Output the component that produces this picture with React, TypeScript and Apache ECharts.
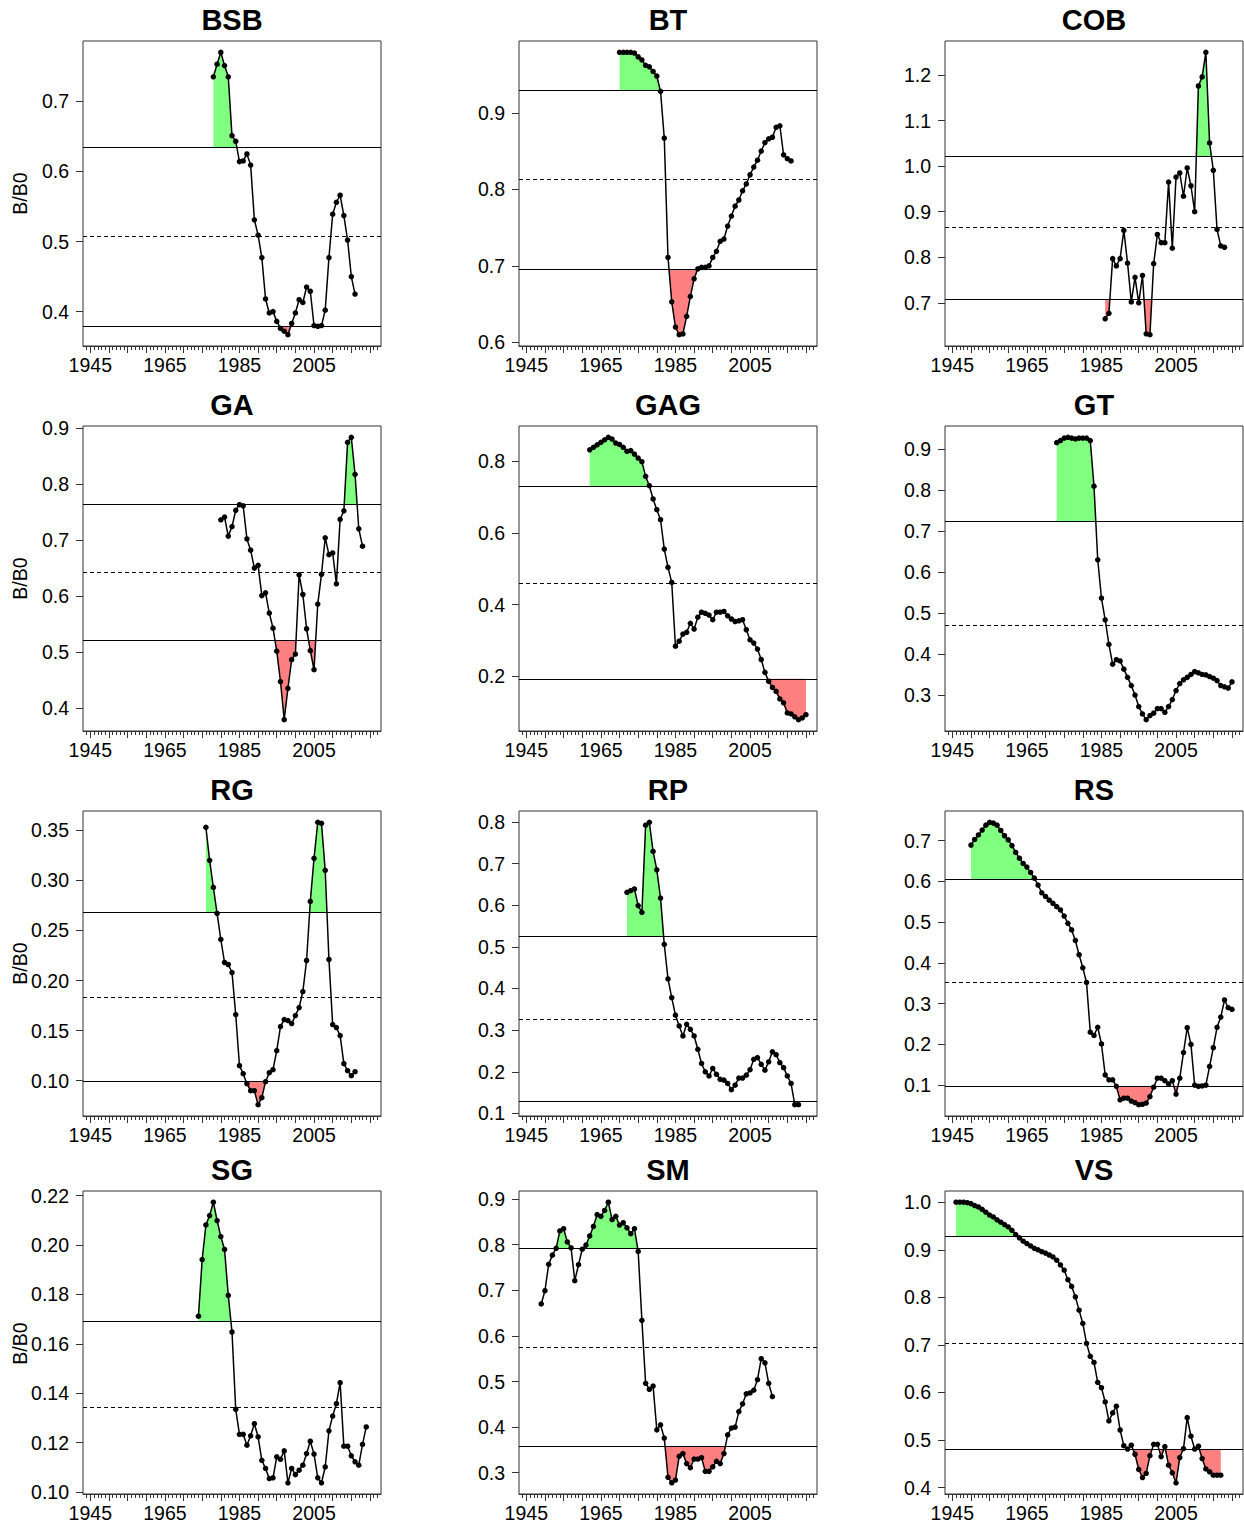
import React, { useEffect, useRef } from 'react';
import * as echarts from 'echarts';

// ---------- data ----------
const STOCKS = ['BSB', 'BT', 'COB', 'GA', 'GAG', 'GT', 'RG', 'RP', 'RS', 'SG', 'SM', 'VS'];
const START_YEARS = [1978, 1970, 1986, 1980, 1962, 1973, 1976, 1972, 1950, 1974, 1949, 1946];

const BSB = [0.735, 0.753, 0.770, 0.751, 0.735, 0.651, 0.643, 0.614, 0.615, 0.625, 0.609, 0.531, 0.509, 0.477, 0.418, 0.398, 0.400, 0.386, 0.376, 0.372, 0.367, 0.383, 0.398, 0.417, 0.413, 0.435, 0.429, 0.380, 0.379, 0.380, 0.402, 0.477, 0.539, 0.556, 0.566, 0.537, 0.502, 0.450, 0.425];
const BT = [0.979, 0.979, 0.979, 0.979, 0.978, 0.973, 0.969, 0.962, 0.960, 0.954, 0.948, 0.928, 0.867, 0.711, 0.653, 0.620, 0.610, 0.611, 0.634, 0.660, 0.683, 0.696, 0.698, 0.698, 0.700, 0.711, 0.719, 0.732, 0.735, 0.752, 0.765, 0.778, 0.786, 0.798, 0.807, 0.819, 0.829, 0.838, 0.850, 0.861, 0.866, 0.868, 0.881, 0.883, 0.845, 0.840, 0.837];
const COB = [0.665, 0.677, 0.797, 0.781, 0.797, 0.859, 0.787, 0.702, 0.756, 0.700, 0.760, 0.632, 0.630, 0.786, 0.850, 0.832, 0.832, 0.965, 0.820, 0.976, 0.985, 0.934, 0.996, 0.957, 0.900, 1.176, 1.196, 1.250, 1.051, 0.991, 0.861, 0.825, 0.822];
const GA = [0.736, 0.741, 0.707, 0.724, 0.753, 0.763, 0.761, 0.702, 0.682, 0.650, 0.655, 0.601, 0.606, 0.570, 0.543, 0.502, 0.448, 0.380, 0.436, 0.487, 0.497, 0.638, 0.603, 0.542, 0.503, 0.469, 0.586, 0.639, 0.704, 0.674, 0.677, 0.622, 0.737, 0.752, 0.874, 0.883, 0.817, 0.720, 0.689];
const GAG = [0.832, 0.839, 0.846, 0.853, 0.860, 0.867, 0.862, 0.851, 0.847, 0.839, 0.828, 0.830, 0.820, 0.809, 0.799, 0.758, 0.732, 0.695, 0.665, 0.637, 0.555, 0.504, 0.462, 0.284, 0.298, 0.318, 0.323, 0.348, 0.332, 0.365, 0.379, 0.376, 0.371, 0.358, 0.379, 0.379, 0.381, 0.369, 0.360, 0.353, 0.355, 0.358, 0.330, 0.302, 0.293, 0.276, 0.247, 0.211, 0.186, 0.169, 0.158, 0.137, 0.126, 0.098, 0.095, 0.087, 0.079, 0.084, 0.093];
const GT = [0.915, 0.920, 0.926, 0.928, 0.926, 0.924, 0.926, 0.926, 0.926, 0.920, 0.809, 0.630, 0.537, 0.484, 0.424, 0.376, 0.387, 0.384, 0.364, 0.344, 0.324, 0.301, 0.273, 0.255, 0.241, 0.251, 0.257, 0.268, 0.268, 0.259, 0.273, 0.290, 0.312, 0.329, 0.338, 0.344, 0.351, 0.358, 0.355, 0.351, 0.350, 0.346, 0.342, 0.336, 0.324, 0.321, 0.318, 0.333];
const RG = [0.353, 0.320, 0.293, 0.267, 0.241, 0.218, 0.216, 0.208, 0.166, 0.115, 0.107, 0.097, 0.090, 0.090, 0.076, 0.083, 0.099, 0.108, 0.111, 0.130, 0.154, 0.161, 0.160, 0.157, 0.165, 0.173, 0.189, 0.220, 0.279, 0.322, 0.358, 0.357, 0.310, 0.221, 0.156, 0.153, 0.145, 0.117, 0.110, 0.105, 0.109];
const RP = [0.631, 0.635, 0.639, 0.599, 0.583, 0.792, 0.799, 0.729, 0.685, 0.617, 0.506, 0.423, 0.378, 0.336, 0.310, 0.286, 0.314, 0.302, 0.286, 0.254, 0.220, 0.200, 0.190, 0.208, 0.194, 0.182, 0.180, 0.172, 0.157, 0.168, 0.185, 0.185, 0.192, 0.205, 0.230, 0.234, 0.218, 0.204, 0.224, 0.248, 0.241, 0.222, 0.210, 0.190, 0.172, 0.121, 0.121];
const RS = [0.689, 0.703, 0.714, 0.726, 0.738, 0.745, 0.743, 0.738, 0.725, 0.712,
  0.702, 0.688, 0.671, 0.657, 0.644, 0.635, 0.622, 0.608, 0.591, 0.572,
  0.563, 0.554, 0.546, 0.538, 0.530, 0.515, 0.497, 0.481, 0.455, 0.420,
  0.388, 0.352, 0.230, 0.222, 0.242, 0.201, 0.125, 0.113, 0.113, 0.097,
  0.064, 0.068, 0.068, 0.061, 0.057, 0.052, 0.053, 0.056, 0.072, 0.095,
  0.117, 0.117, 0.111, 0.103, 0.111, 0.078, 0.117, 0.180, 0.241, 0.200,
  0.100, 0.097, 0.098, 0.100, 0.146, 0.192, 0.242, 0.267, 0.309, 0.290, 0.286];
const SG = [0.1712, 0.1941, 0.2081, 0.2119, 0.2173, 0.2099, 0.2034, 0.1982, 0.1796, 0.1648, 0.1335, 0.1234, 0.1234, 0.1190, 0.1228, 0.1277, 0.1224, 0.1129, 0.1096, 0.1055, 0.1058, 0.1143, 0.1133, 0.1167, 0.1038, 0.1096, 0.1071, 0.1089, 0.1109, 0.1156, 0.1206, 0.1154, 0.1058, 0.1038, 0.1102, 0.1248, 0.1308, 0.1358, 0.1443, 0.1186, 0.1186, 0.1147, 0.1123, 0.1109, 0.1193, 0.1264];
const SM = [0.670, 0.699, 0.757, 0.777, 0.792, 0.830, 0.835, 0.806, 0.793, 0.721,
  0.756, 0.790, 0.799, 0.819, 0.840, 0.866, 0.862, 0.875, 0.893, 0.855,
  0.862, 0.843, 0.848, 0.837, 0.824, 0.835, 0.785, 0.634, 0.496, 0.483,
  0.490, 0.394, 0.405, 0.376, 0.290, 0.278, 0.284, 0.336, 0.342, 0.320,
  0.311, 0.330, 0.330, 0.333, 0.303, 0.303, 0.313, 0.325, 0.320, 0.342,
  0.383, 0.398, 0.400, 0.434, 0.451, 0.473, 0.475, 0.481, 0.504, 0.550,
  0.541, 0.496, 0.467];
const VS = [1.000, 1.000, 1.000, 0.999, 0.997, 0.993, 0.990, 0.985, 0.979, 0.973,
  0.969, 0.963, 0.958, 0.953, 0.948, 0.941, 0.932, 0.925, 0.918, 0.913,
  0.908, 0.903, 0.900, 0.896, 0.893, 0.889, 0.885, 0.878, 0.868, 0.857,
  0.837, 0.823, 0.801, 0.773, 0.745, 0.703, 0.676, 0.663, 0.621, 0.610,
  0.580, 0.540, 0.557, 0.571, 0.521, 0.488, 0.481, 0.489, 0.470, 0.438,
  0.421, 0.430, 0.467, 0.491, 0.491, 0.465, 0.486, 0.447, 0.431, 0.410,
  0.463, 0.482, 0.547, 0.508, 0.481, 0.487, 0.461, 0.439, 0.433, 0.426,
  0.426, 0.426];

const SERIES_VALUES = [BSB, BT, COB, GA, GAG, GT, RG, RP, RS, SG, SM, VS];

// reference lines (upper solid, middle dashed, lower solid)
const UPPER = [0.635, 0.929, 1.021, 0.764, 0.730, 0.724, 0.268, 0.525, 0.605, 0.1692, 0.792, 0.929];
const MIDDLE = [0.508, 0.813, 0.865, 0.642, 0.460, 0.470, 0.183, 0.326, 0.352, 0.1342, 0.574, 0.704];
const LOWER: (number | null)[] = [0.379, 0.696, 0.707, 0.522, 0.193, null, 0.099, 0.130, 0.098, null, 0.358, 0.480];

// tick labels
const Y_TICKS = [
  [0.4, 0.5, 0.6, 0.7],
  [0.6, 0.7, 0.8, 0.9],
  [0.7, 0.8, 0.9, 1.0, 1.1, 1.2],
  [0.4, 0.5, 0.6, 0.7, 0.8, 0.9],
  [0.2, 0.4, 0.6, 0.8],
  [0.3, 0.4, 0.5, 0.6, 0.7, 0.8, 0.9],
  [0.10, 0.15, 0.20, 0.25, 0.30, 0.35],
  [0.1, 0.2, 0.3, 0.4, 0.5, 0.6, 0.7, 0.8],
  [0.1, 0.2, 0.3, 0.4, 0.5, 0.6, 0.7],
  [0.10, 0.12, 0.14, 0.16, 0.18, 0.20, 0.22],
  [0.3, 0.4, 0.5, 0.6, 0.7, 0.8, 0.9],
  [0.4, 0.5, 0.6, 0.7, 0.8, 0.9, 1.0],
];
const Y_DECIMALS = [1, 1, 1, 1, 1, 1, 2, 1, 1, 2, 1, 1];
const X_LABELS = [1945, 1965, 1985, 2005];
const X_MAJOR_TICKS = [1945, 1950, 1955, 1960, 1965, 1970, 1975, 1980, 1985, 1990, 1995, 2000, 2005, 2010, 2015, 2020];
const X_MINOR_FIRST = 1944;
const X_MINOR_LAST = 2022;

// ---------- layout / style ----------
const GRID_LEFT = [83, 519, 945];
const GRID_TOP = [41, 426, 811, 1191];
const GRID_W = 298;
const GRID_H = 305;
const FONT = '"Liberation Sans", Arial, sans-serif';
const TICK_FONT = 19.5;
const GREEN = '#80FF80';
const RED = '#FF8080';
const AXIS_COLOR = '#333';

function fillData(xs: number[], ys: number[], ref: number, above: boolean) {
  const out: number[][] = [];
  for (let i = 0; i < ys.length; i++) {
    if (i > 0) {
      const a = ys[i - 1] - ref;
      const b = ys[i] - ref;
      if (a * b < 0) {
        const t = a / (a - b);
        out.push([xs[i - 1] + t * (xs[i] - xs[i - 1]), ref]);
      }
    }
    out.push([xs[i], above ? Math.max(ys[i], ref) : Math.min(ys[i], ref)]);
  }
  return out;
}

function buildOption() {
  const yearsOf = (i: number) => SERIES_VALUES[i].map((_, k) => START_YEARS[i] + k);
  let yMin = Infinity;
  let yMax = -Infinity;
  SERIES_VALUES.forEach((_, i) => {
    const ys = yearsOf(i);
    yMin = Math.min(yMin, ys[0]);
    yMax = Math.max(yMax, ys[ys.length - 1]);
  });
  const xPad = (yMax - yMin) * 0.04;
  const xMin = yMin - xPad;
  const xMax = yMax + xPad;

  const minorTicks: number[] = [];
  for (let y = X_MINOR_FIRST; y <= X_MINOR_LAST; y++) minorTicks.push(y);

  const grids: any[] = [];
  const xAxes: any[] = [];
  const yAxes: any[] = [];
  const series: any[] = [];
  const graphics: any[] = [];

  STOCKS.forEach((name, i) => {
    const row = Math.floor(i / 3);
    const col = i % 3;
    const vals = SERIES_VALUES[i];
    const years = yearsOf(i);
    const lo = Math.min(...vals);
    const hi = Math.max(...vals);
    const r = hi - lo;
    const left = GRID_LEFT[col];
    const top = GRID_TOP[row];

    grids.push({
      left, top, width: GRID_W, height: GRID_H,
      show: true, borderColor: AXIS_COLOR, borderWidth: 1, backgroundColor: 'transparent',
      containLabel: false,
    });

    xAxes.push({
      type: 'value', gridIndex: i, position: 'bottom', min: xMin, max: xMax,
      axisLine: { show: false },
      axisTick: { show: true, customValues: minorTicks, length: 4, lineStyle: { color: AXIS_COLOR, width: 1 } },
      axisLabel: { show: false },
      splitLine: { show: false },
    });
    xAxes.push({
      type: 'value', gridIndex: i, position: 'bottom', min: xMin, max: xMax,
      axisLine: { show: true, onZero: false, lineStyle: { color: AXIS_COLOR, width: 1 } },
      axisTick: { show: true, customValues: X_MAJOR_TICKS, length: 7, lineStyle: { color: AXIS_COLOR, width: 1 } },
      axisLabel: {
        customValues: X_LABELS, formatter: (v: number) => String(Math.round(v)),
        fontSize: TICK_FONT, fontFamily: FONT, color: '#000', margin: 9,
      },
      splitLine: { show: false },
    });

    const dec = Y_DECIMALS[i];
    yAxes.push({
      type: 'value', gridIndex: i, min: lo - 0.04 * r, max: hi + 0.04 * r,
      axisLine: { show: false },
      axisTick: { show: true, customValues: Y_TICKS[i], length: 7, lineStyle: { color: AXIS_COLOR, width: 1 } },
      axisLabel: {
        customValues: Y_TICKS[i], formatter: (v: number) => v.toFixed(dec),
        fontSize: TICK_FONT, fontFamily: FONT, color: '#000', margin: 14,
      },
      splitLine: { show: false },
    });

    const up = UPPER[i];
    const low = LOWER[i];
    series.push({
      type: 'line', xAxisIndex: 2 * i + 1, yAxisIndex: i,
      data: fillData(years, vals, up, true),
      symbol: 'none', lineStyle: { width: 0, opacity: 0 },
      areaStyle: { color: GREEN, opacity: 1, origin: up },
      silent: true, z: 1,
    });
    if (low !== null) {
      series.push({
        type: 'line', xAxisIndex: 2 * i + 1, yAxisIndex: i,
        data: fillData(years, vals, low, false),
        symbol: 'none', lineStyle: { width: 0, opacity: 0 },
        areaStyle: { color: RED, opacity: 1, origin: low },
        silent: true, z: 1,
      });
    }
    const mlData: any[] = [
      { yAxis: up },
      { yAxis: MIDDLE[i], lineStyle: { type: [4, 3], color: '#000', width: 1 } },
    ];
    if (low !== null) mlData.push({ yAxis: low });
    series.push({
      name, type: 'line', xAxisIndex: 2 * i + 1, yAxisIndex: i,
      data: years.map((y, k) => [y, vals[k]]),
      symbol: 'circle', symbolSize: 5.5,
      itemStyle: { color: '#000' },
      lineStyle: { color: '#000', width: 1.5 },
      z: 3,
      markLine: {
        silent: true, symbol: ['none', 'none'], label: { show: false },
        precision: 6,
        lineStyle: { color: '#000', width: 1, type: 'solid' },
        data: mlData,
      },
    });

    graphics.push({
      type: 'text', x: left + GRID_W / 2, y: top - 21, silent: true,
      style: {
        text: name, font: `bold 29px ${FONT}`, fill: '#000',
        textAlign: 'center', textVerticalAlign: 'middle', align: 'center', verticalAlign: 'middle',
      },
    });
    if (col === 0) {
      graphics.push({
        type: 'text', x: 20, y: top + GRID_H / 2, rotation: Math.PI / 2, silent: true,
        style: {
          text: 'B/B0', font: `${TICK_FONT}px ${FONT}`, fill: '#000',
          textAlign: 'center', textVerticalAlign: 'middle', align: 'center', verticalAlign: 'middle',
        },
      });
    }
  });

  return {
    animation: false,
    backgroundColor: '#fff',
    textStyle: { fontFamily: FONT },
    grid: grids,
    xAxis: xAxes,
    yAxis: yAxes,
    series,
    graphic: graphics,
  };
}

export default function App() {
  const ref = useRef<HTMLDivElement>(null);
  useEffect(() => {
    if (!ref.current) return;
    const chart = echarts.init(ref.current, null, { renderer: 'svg' });
    chart.setOption(buildOption() as any);
    return () => chart.dispose();
  }, []);
  return (
    <div
      ref={ref}
      style={{ position: 'absolute', left: 0, top: 0, width: 1244, height: 1523, background: '#fff' }}
    />
  );
}
